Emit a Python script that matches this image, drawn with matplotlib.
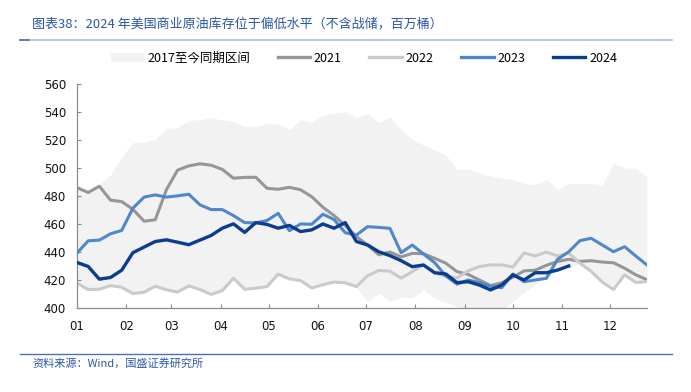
import numpy as np
from matplotlib import pyplot as plt
from matplotlib.lines import Line2D
from matplotlib.patches import Patch

plt.rcParams['font.family'] = ['Noto Sans CJK SC', 'DejaVu Sans']

# Weekly data, week index 0..51 (x drawn in day-of-year)
weeks = np.arange(52)
days = weeks * 7

s2021 = [486, 482.5, 487, 477, 476, 470.5, 462, 463, 484.5, 498.5, 501.5, 503, 502, 499,
         492.7, 493.3, 493.4, 485.5, 484.8, 486.2, 484.5, 479.5, 472, 466, 459, 451, 445, 438,
         440, 436.5, 439, 438.8, 435.5, 432, 426, 424, 420, 416, 418, 422, 426.5, 427, 430.5,
         433.2, 434.8, 433.3, 433.8, 432.8, 432.3, 428.4, 423.7, 420.2]
s2022 = [417.8, 413.2, 413.4, 416, 414.8, 410.3, 411.2, 415.6, 413, 411.4, 415.8, 413.2, 409.7,
         412.4, 421.3, 413.4, 414.1, 415.3, 424.2, 420.8, 419.6, 414.3, 416.6, 418.5, 418, 415.3,
         423, 426.8, 426.3, 421.3, 426, 430.8, 425, 422.6, 421.5, 426.5, 429.6, 430.8, 430.8,
         429.2, 439.3, 437.2, 440, 437.2, 439.2, 432, 426.2, 418.5, 413.2, 423.7, 418.2, 418.9]
s2023 = [439.2, 448, 448.5, 453, 455.4, 471.3, 479.2, 480.8, 479.2, 480.1, 481.3, 473.7, 470.3,
         470.3, 466, 461, 460.8, 462.5, 467.6, 455.2, 460, 459.8, 467, 463.2, 453.8, 452.1, 458.1,
         457.6, 456.9, 439.5, 445, 438.6, 432.4, 422.9, 417.1, 420, 418.1, 415.5, 414.5, 424.3,
         418.8, 420, 421.2, 434.8, 440.2, 448.1, 449.8, 445, 440.2, 443.8, 437.1, 430.7]
s2024 = [432.5, 429.7, 420.6, 421.8, 427, 439.5, 443.5, 447.5, 448.7, 447, 445.2, 448.5, 451.8,
         457, 460.1, 454, 461, 459.7, 457, 459, 454.6, 455.8, 460, 457, 461, 447.5, 445, 440.2,
         437.4, 433.8, 429.5, 430.7, 425.2, 424.3, 418.1, 418.8, 416.4, 412.9, 416.4, 423.6, 420,
         425.2, 425.2, 427.1, 430]

# 2017-now range (max / min)
band_hi = [486, 484, 488, 495, 508, 518, 518.6, 520.5, 528.3, 528.8, 533.8, 534.7, 536, 534.3,
           533.1, 530, 529.5, 531.9, 531.4, 527.6, 534.3, 532.4, 537.9, 539, 540.2, 536, 539,
           532.4, 536.6, 527.1, 520.5, 516.4, 512.9, 509.3, 499, 499.5, 496.2, 494.3, 492.6,
           491.9, 489, 487.9, 491.9, 484.8, 489, 489, 489, 487.9, 503.3, 500.2, 499.5, 493.8]
band_lo = [417.8, 413.2, 413.4, 416, 414.8, 410.3, 411.2, 415.6, 413, 411.4, 415.8, 413.2, 409.7,
           412.4, 421.3, 413.4, 414.1, 415.3, 424.2, 420.8, 419.6, 414.3, 416.6, 418.5, 418, 415,
           404.5, 410.5, 404.5, 408, 407, 413, 407, 404, 401, 399, 397, 395.5, 398, 405, 411, 417,
           422, 426.5, 429, 432, 426, 418.5, 413, 423.5, 418, 418.8]

month_days = [0, 31, 59, 90, 120, 151, 181, 212, 243, 273, 304, 334]
month_labels = ['01', '02', '03', '04', '05', '06', '07', '08', '09', '10', '11', '12']

c_band = '#f2f2f2'
c21 = '#969696'
c22 = '#cacaca'
c23 = '#4f87c8'
c24 = '#0a3d8f'

fig = plt.figure(figsize=(6.91, 3.92), dpi=100)
ax = fig.add_axes([77 / 691, 1 - 308 / 392, 570 / 691, 224 / 392])

ax.fill_between(days, band_lo, band_hi, color=c_band, lw=0, zorder=1)
ax.plot(days, s2021, color=c21, lw=2.2, zorder=2)
ax.plot(days, s2022, color=c22, lw=2.2, zorder=2)
ax.plot(days, s2023, color=c23, lw=2.2, zorder=3)
ax.plot(days[:len(s2024)], s2024, color=c24, lw=2.4, zorder=4)

ax.set_xlim(0, 357)
ax.set_ylim(400, 560)
ax.set_yticks(range(400, 561, 20))
ax.set_xticks(month_days)
ax.set_xticklabels(month_labels)
for lab in ax.get_xticklabels() + ax.get_yticklabels():
    lab.set_family('DejaVu Sans')

for s in ['top', 'right']:
    ax.spines[s].set_visible(False)
for s in ['left', 'bottom']:
    ax.spines[s].set_color('#8c8c8c')
    ax.spines[s].set_linewidth(0.9)
ax.tick_params(direction='in', length=3, color='#8c8c8c', labelsize=8.5, labelcolor='#111111')
ax.tick_params(axis='y', pad=8)
ax.tick_params(axis='x', pad=9)

# Legend
handles = [Patch(facecolor=c_band, edgecolor='none'),
           Line2D([], [], color=c21, lw=2.4),
           Line2D([], [], color=c22, lw=2.4),
           Line2D([], [], color=c23, lw=2.4),
           Line2D([], [], color=c24, lw=2.4)]
labels = ['2017至今同期区间', '2021', '2022', '2023', '2024']
fig.legend(handles, labels, loc='center', bbox_to_anchor=(0.527, 1 - 58 / 392), ncol=5,
           frameon=False, fontsize=9, handlelength=2.6, handletextpad=0.3, columnspacing=2.2)

# Title, rules and source
fig.text(32 / 691, 1 - 24 / 392, '图表38：2024 年美国商业原油库存位于偏低水平（不含战储，百万桶）',
         fontsize=9.4, style='italic', color='#2a56a8', va='center')
fig.add_artist(Line2D([20 / 691, 672 / 691], [1 - 39.5 / 392] * 2, color='#a9bde3', lw=1.2))
fig.add_artist(Line2D([20 / 691, 29 / 691], [1 - 39.5 / 392] * 2, color='#4a6fb8', lw=1.2))
fig.add_artist(Line2D([20 / 691, 672 / 691], [1 - 354 / 392] * 2, color='#4a6fb8', lw=1.0))
fig.text(32 / 691, 1 - 363 / 392, '资料来源：Wind，国盛证券研究所',
         fontsize=8, style='italic', color='#2a56a8', va='center')

fig.savefig('out.png', dpi=100)
